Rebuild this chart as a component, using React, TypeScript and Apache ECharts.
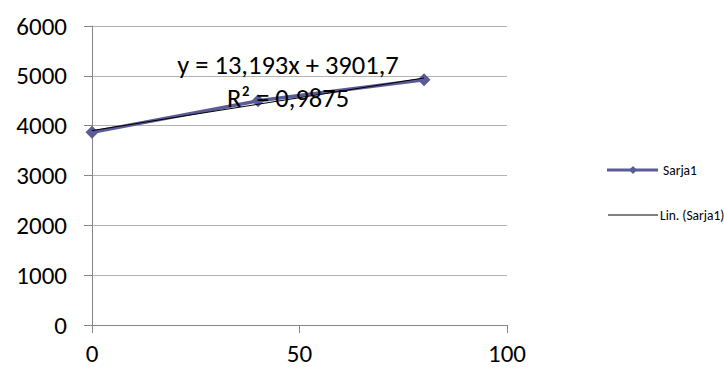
import React, { useEffect, useRef } from "react";
import * as echarts from "echarts";

// Measured points of Sarja1
const xValues = [0, 40, 80];
const yValues = [3867, 4498, 4923];

// Linear trendline coefficients shown on the chart
const slope = 13.193;
const intercept = 3901.7;
const rSquared = "0,9875";

const xTicks = { min: 0, max: 100, interval: 50 };
const yTicks = { min: 0, max: 6000, interval: 1000 };

const seriesName = "Sarja1";
const trendName = "Lin. (Sarja1)";

const FONT = "Carlito, Lato, 'Liberation Sans', sans-serif";
const SERIES_COLOR = "#5B5B97";

export default function App() {
  const ref = useRef<HTMLDivElement>(null);

  useEffect(() => {
    if (!ref.current) return;
    const chart = echarts.init(ref.current, undefined, { renderer: "svg" });

    const trendX = [xValues[0], xValues[xValues.length - 1]];
    const trendData = trendX.map((x) => [x, slope * x + intercept]);
    const eqText =
      "y = " +
      slope.toString().replace(".", ",") +
      "x + " +
      intercept.toString().replace(".", ",");

    const legendX = 607;
    const legendLen = 51;
    const row1 = 170;
    const row2 = 215;

    chart.setOption({
      animation: false,
      backgroundColor: "#ffffff",
      grid: { left: 92, right: 217, top: 26, bottom: 44 },
      xAxis: {
        type: "value",
        min: xTicks.min,
        max: xTicks.max,
        interval: xTicks.interval,
        axisLine: { show: true, onZero: false, lineStyle: { color: "#868686", width: 1 } },
        axisTick: { show: true, length: 8, lineStyle: { color: "#868686" } },
        axisLabel: { color: "#000", fontSize: 25, fontFamily: FONT, margin: 16 },
        splitLine: { show: false },
      },
      yAxis: {
        type: "value",
        min: yTicks.min,
        max: yTicks.max,
        interval: yTicks.interval,
        axisLine: { show: true, lineStyle: { color: "#868686", width: 1 } },
        axisTick: { show: true, length: 8, lineStyle: { color: "#868686" } },
        axisLabel: {
          color: "#000",
          fontSize: 25,
          fontFamily: FONT,
          margin: 25,
          formatter: (v: number) => String(v),
        },
        splitLine: { show: true, lineStyle: { color: "#b3b3b3", width: 1 } },
      },
      legend: { show: false },
      series: [
        {
          name: seriesName,
          type: "line",
          data: xValues.map((x, i) => [x, yValues[i]]),
          symbol: "diamond",
          symbolSize: 13,
          lineStyle: { color: SERIES_COLOR, width: 3.5 },
          itemStyle: { color: SERIES_COLOR },
          z: 2,
        },
        {
          name: trendName,
          type: "line",
          data: trendData,
          symbol: "none",
          lineStyle: { color: "#000000", width: 1 },
          itemStyle: { color: "#000000" },
          z: 3,
        },
      ],
      graphic: [
        {
          type: "text",
          x: 288,
          y: 65,
          z: 10,
          style: {
            text: eqText,
            fontSize: 26.5,
            fontFamily: FONT,
            fill: "#000",
            align: "center",
            verticalAlign: "middle",
          },
        },
        {
          type: "text",
          x: 288,
          y: 98,
          z: 10,
          style: {
            text: "R² = " + rSquared,
            fontSize: 26.5,
            fontFamily: FONT,
            fill: "#000",
            align: "center",
            verticalAlign: "middle",
          },
        },
        // legend: Sarja1
        {
          type: "line",
          shape: { x1: legendX, y1: row1, x2: legendX + legendLen, y2: row1 },
          style: { stroke: SERIES_COLOR, lineWidth: 3 },
        },
        {
          type: "polygon",
          shape: {
            points: [
              [633, row1 - 4],
              [637, row1],
              [633, row1 + 4],
              [629, row1],
            ],
          },
          style: { fill: SERIES_COLOR },
        },
        {
          type: "text",
          x: 663,
          y: row1,
          style: {
            text: seriesName,
            fontSize: 13.5,
            fontFamily: FONT,
            fill: "#000",
            verticalAlign: "middle",
          },
        },
        // legend: linear trendline
        {
          type: "line",
          shape: { x1: legendX + 1, y1: row2, x2: legendX + legendLen, y2: row2 },
          style: { stroke: "#000", lineWidth: 1 },
        },
        {
          type: "text",
          x: 660,
          y: row2,
          style: {
            text: trendName,
            fontSize: 13.5,
            fontFamily: FONT,
            fill: "#000",
            verticalAlign: "middle",
          },
        },
      ],
    });

    return () => chart.dispose();
  }, []);

  return <div ref={ref} style={{ width: 724, height: 369, position: "absolute", left: 0, top: 0 }} />;
}
